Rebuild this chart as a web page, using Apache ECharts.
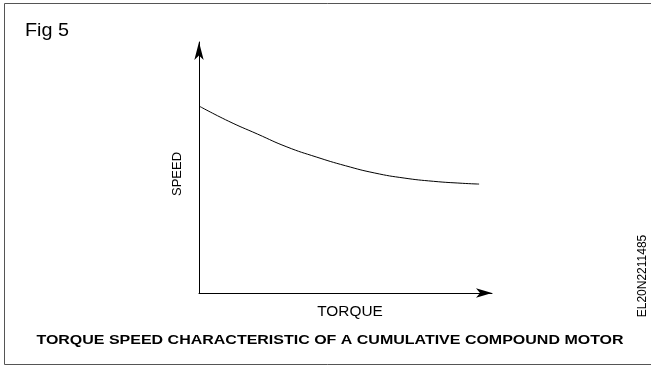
<!DOCTYPE html>
<html>
<head>
<meta charset="utf-8">
<script src="https://cdn.jsdelivr.net/npm/echarts@6/dist/echarts.min.js"></script>
<style>
  html, body { margin: 0; padding: 0; background: #fff; }
  #chart { width: 651px; height: 368px; }
</style>
</head>
<body>
<div id="chart"></div>
<script>
// Torque (x) and speed (y) of a cumulative compound motor, arbitrary units
const torque = [0, 1, 2, 3, 4, 5, 6, 7, 8, 9, 9.56];
const speed  = [7.45, 6.85, 6.33, 5.82, 5.42, 5.07, 4.78, 4.58, 4.45, 4.37, 4.34];

const figLabel = 'Fig 5';
const xName = 'TORQUE';
const yName = 'SPEED';
const caption = 'TORQUE SPEED CHARACTERISTIC OF A CUMULATIVE COMPOUND MOTOR';
const refCode = 'EL20N2211485';

const points = torque.map((t, i) => [t, speed[i]]);
const font = 'Liberation Sans, Arial, sans-serif';
const frame = { stroke: '#555', lineWidth: 1 };

const chart = echarts.init(document.getElementById('chart'), null, { renderer: 'canvas' });
chart.setOption({
  animation: false,
  backgroundColor: '#fff',
  grid: { left: 199, right: 159, top: 42, bottom: 75 },
  xAxis: {
    type: 'value', min: 0, max: 10,
    axisLine: { show: true, symbol: ['none', 'arrow'], symbolSize: [7, 16],
      lineStyle: { color: '#000', width: 1 } },
    axisTick: { show: false }, axisLabel: { show: false }, splitLine: { show: false }
  },
  yAxis: {
    type: 'value', min: 0, max: 10,
    axisLine: { show: true, symbol: ['none', 'arrow'], symbolSize: [7, 18],
      lineStyle: { color: '#000', width: 1 } },
    axisTick: { show: false }, axisLabel: { show: false }, splitLine: { show: false }
  },
  series: [{
    type: 'line', data: points, smooth: true, symbol: 'none',
    lineStyle: { color: '#000', width: 1 }
  }],
  graphic: [
    // open frame: top, left and bottom edges
    { type: 'line', shape: { x1: 4.5, y1: 3.5, x2: 651, y2: 3.5 }, style: frame, silent: true },
    { type: 'line', shape: { x1: 4.5, y1: 3.5, x2: 4.5, y2: 364.5 }, style: frame, silent: true },
    { type: 'line', shape: { x1: 4.5, y1: 364.5, x2: 651, y2: 364.5 }, style: frame, silent: true },
    { type: 'text', x: 25, y: 31.5,
      style: { text: figLabel, font: '18px ' + font, fill: '#000', align: 'left', verticalAlign: 'middle' },
      scaleX: 1.1 },
    // vertical texts read bottom to top
    { type: 'text', x: 177, y: 174, rotation: Math.PI / 2,
      style: { text: yName, font: '13px ' + font, fill: '#000', align: 'center', verticalAlign: 'middle' } },
    { type: 'text', x: 350, y: 312, scaleX: 1.1,
      style: { text: xName, font: '14px ' + font, fill: '#000', align: 'center', verticalAlign: 'middle' } },
    { type: 'text', x: 330, y: 340, scaleX: 1.23,
      style: { text: caption, font: 'bold 13px ' + font, fill: '#000', align: 'center', verticalAlign: 'middle' } },
    { type: 'text', x: 643, y: 276, rotation: Math.PI / 2,
      style: { text: refCode, font: '12px ' + font, fill: '#000', align: 'center', verticalAlign: 'middle' } }
  ]
});
</script>
</body>
</html>
